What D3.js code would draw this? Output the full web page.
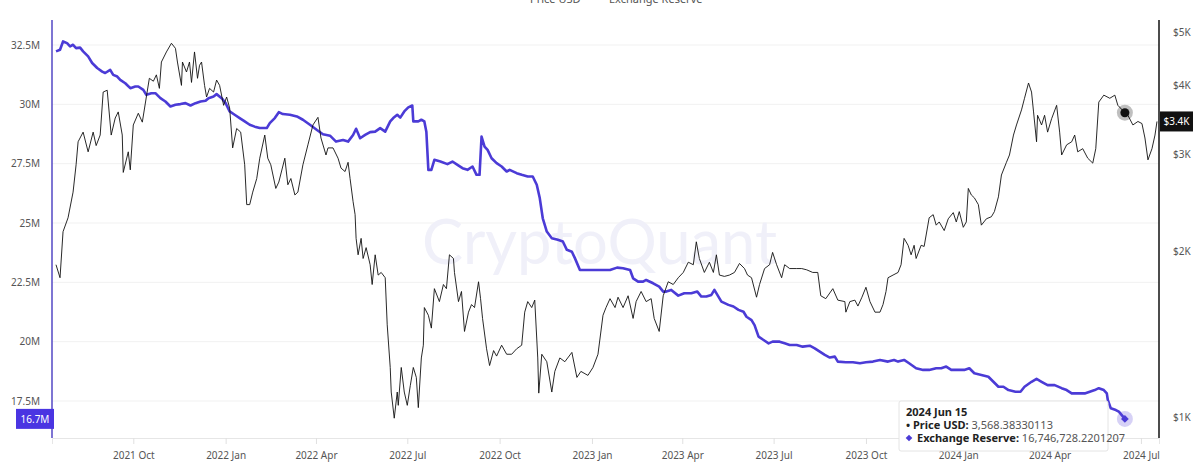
<!DOCTYPE html>
<html>
<head>
<meta charset="utf-8">
<script src="https://cdn.jsdelivr.net/npm/d3@7"></script>
<style>
  html, body { margin: 0; padding: 0; background: #fff; }
  svg { display: block; font-family: "Noto Sans", "DejaVu Sans", sans-serif; }
</style>
</head>
<body>
<div id="chart"></div>
<script>
// price of the asset in USD (right axis, log scale)
const priceSeries = [
  ["2021-07-16",1890],["2021-07-20",1790],["2021-07-23",2170],["2021-07-28",2300],["2021-08-02",2560],
  ["2021-08-05",2870],["2021-08-07",3160],["2021-08-12",3290],["2021-08-17",3030],["2021-08-22",3290],
  ["2021-08-25",3110],["2021-08-29",3250],["2021-09-01",3890],["2021-09-05",3920],["2021-09-09",3250],
  ["2021-09-13",3490],["2021-09-16",3580],["2021-09-20",3250],["2021-09-21",2780],["2021-09-26",3030],
  ["2021-09-28",2810],["2021-10-01",3390],["2021-10-06",3560],["2021-10-10",3430],["2021-10-14",3810],
  ["2021-10-17",4120],["2021-10-21",4070],["2021-10-24",4180],["2021-10-27",3950],["2021-10-29",4410],
  ["2021-11-03",4600],["2021-11-08",4770],["2021-11-12",4670],["2021-11-14",4410],["2021-11-18",4000],
  ["2021-11-19",4410],["2021-11-23",4230],["2021-11-26",4410],["2021-11-28",4050],["2021-12-01",4600],
  ["2021-12-04",4120],["2021-12-06",4350],["2021-12-08",4410],["2021-12-11",4000],["2021-12-13",3810],
  ["2021-12-16",3950],["2021-12-20",3890],["2021-12-23",4090],["2021-12-26",4000],["2021-12-30",3680],
  ["2022-01-02",3810],["2022-01-05",3640],["2022-01-08",3080],["2022-01-12",3340],["2022-01-16",3290],
  ["2022-01-20",2870],["2022-01-22",2430],["2022-01-25",2430],["2022-01-28",2560],["2022-02-01",2710],
  ["2022-02-04",2950],["2022-02-09",3250],["2022-02-12",2950],["2022-02-15",2870],["2022-02-20",2600],
  ["2022-02-23",2670],["2022-03-01",2950],["2022-03-04",2640],["2022-03-07",2710],["2022-03-11",2530],
  ["2022-03-14",2560],["2022-03-19",2870],["2022-03-24",3120],["2022-03-29",3390],["2022-04-03",3500],
  ["2022-04-06",3210],["2022-04-11",2990],["2022-04-13",3080],["2022-04-18",3080],["2022-04-23",2950],
  ["2022-04-26",2830],["2022-04-30",2790],["2022-05-03",2900],["2022-05-05",2710],["2022-05-08",2460],
  ["2022-05-10",2330],["2022-05-11",2110],["2022-05-13",1970],["2022-05-16",2110],["2022-05-18",1940],
  ["2022-05-21",2030],["2022-05-25",1890],["2022-05-27",1740],["2022-05-30",1970],["2022-06-02",1810],
  ["2022-06-05",1830],["2022-06-09",1790],["2022-06-11",1470],["2022-06-14",1230],["2022-06-15",1110],
  ["2022-06-18",995],["2022-06-21",1110],["2022-06-22",1050],["2022-06-25",1230],["2022-06-28",1110],
  ["2022-07-01",1050],["2022-07-04",1140],["2022-07-07",1230],["2022-07-10",1180],["2022-07-12",1040],
  ["2022-07-15",1280],["2022-07-17",1350],["2022-07-18",1580],["2022-07-22",1530],["2022-07-25",1450],
  ["2022-07-28",1710],["2022-08-02",1620],["2022-08-06",1740],["2022-08-09",1710],["2022-08-12",1970],
  ["2022-08-16",1940],["2022-08-17",1830],["2022-08-21",1620],["2022-08-24",1690],["2022-08-27",1430],
  ["2022-08-31",1550],["2022-09-03",1600],["2022-09-06",1580],["2022-09-10",1760],["2022-09-12",1640],
  ["2022-09-14",1510],["2022-09-18",1330],["2022-09-21",1240],["2022-09-25",1320],["2022-09-28",1290],
  ["2022-10-03",1350],["2022-10-08",1300],["2022-10-13",1300],["2022-10-18",1330],["2022-10-23",1350],
  ["2022-10-26",1550],["2022-10-29",1620],["2022-11-02",1580],["2022-11-05",1630],["2022-11-08",1280],
  ["2022-11-09",1105],["2022-11-12",1300],["2022-11-17",1260],["2022-11-22",1110],["2022-11-25",1210],
  ["2022-11-30",1280],["2022-12-05",1260],["2022-12-12",1310],["2022-12-17",1180],["2022-12-21",1210],
  ["2022-12-28",1190],["2023-01-02",1230],["2023-01-07",1300],["2023-01-12",1530],["2023-01-15",1580],
  ["2023-01-19",1640],["2023-01-24",1580],["2023-01-27",1650],["2023-02-01",1580],["2023-02-06",1660],
  ["2023-02-11",1510],["2023-02-14",1620],["2023-02-19",1690],["2023-02-24",1620],["2023-03-01",1640],
  ["2023-03-04",1510],["2023-03-09",1430],["2023-03-13",1660],["2023-03-18",1760],["2023-03-23",1740],
  ["2023-03-28",1790],["2023-04-02",1830],["2023-04-07",1910],["2023-04-12",1890],["2023-04-15",2080],
  ["2023-04-18",1940],["2023-04-23",1830],["2023-04-28",1910],["2023-05-02",1830],["2023-05-05",1970],
  ["2023-05-08",1810],["2023-05-13",1800],["2023-05-18",1810],["2023-05-23",1830],["2023-05-28",1900],
  ["2023-06-02",1860],["2023-06-05",1810],["2023-06-09",1790],["2023-06-14",1650],["2023-06-17",1740],
  ["2023-06-22",1860],["2023-06-27",1890],["2023-06-30",1990],["2023-07-04",1890],["2023-07-09",1790],
  ["2023-07-12",1890],["2023-07-17",1860],["2023-07-24",1860],["2023-07-29",1860],["2023-08-03",1850],
  ["2023-08-09",1830],["2023-08-14",1830],["2023-08-17",1660],["2023-08-22",1640],["2023-08-29",1710],
  ["2023-09-03",1630],["2023-09-10",1620],["2023-09-11",1550],["2023-09-15",1620],["2023-09-20",1630],
  ["2023-09-23",1590],["2023-09-27",1650],["2023-10-01",1720],["2023-10-05",1620],["2023-10-10",1550],
  ["2023-10-15",1550],["2023-10-18",1600],["2023-10-21",1690],["2023-10-23",1790],["2023-10-28",1810],
  ["2023-11-02",1830],["2023-11-05",1890],["2023-11-08",2110],["2023-11-12",2050],["2023-11-15",1970],
  ["2023-11-18",2050],["2023-11-20",1940],["2023-11-25",2050],["2023-11-28",2040],["2023-12-03",2300],
  ["2023-12-07",2330],["2023-12-10",2230],["2023-12-13",2260],["2023-12-18",2180],["2023-12-22",2290],
  ["2023-12-27",2350],["2023-12-30",2260],["2024-01-02",2360],["2024-01-06",2210],["2024-01-09",2260],
  ["2024-01-11",2600],["2024-01-14",2530],["2024-01-17",2500],["2024-01-21",2430],["2024-01-24",2230],
  ["2024-01-29",2290],["2024-02-03",2310],["2024-02-06",2360],["2024-02-10",2510],["2024-02-13",2750],
  ["2024-02-18",2900],["2024-02-21",2990],["2024-02-25",3250],["2024-02-28",3390],["2024-03-04",3610],
  ["2024-03-07",3790],["2024-03-11",4040],["2024-03-14",3890],["2024-03-16",3580],["2024-03-19",3160],
  ["2024-03-20",3530],["2024-03-24",3390],["2024-03-27",3530],["2024-03-30",3290],["2024-04-03",3480],
  ["2024-04-08",3680],["2024-04-11",3290],["2024-04-13",2990],["2024-04-18",3120],["2024-04-23",3160],
  ["2024-04-26",3250],["2024-04-29",3030],["2024-05-04",3070],["2024-05-09",2950],["2024-05-14",2890],
  ["2024-05-17",3070],["2024-05-20",3730],["2024-05-25",3840],["2024-05-31",3790],["2024-06-05",3840],
  ["2024-06-08",3680],["2024-06-15",3568.38],["2024-06-18",3530],["2024-06-23",3390],["2024-06-28",3440],
  ["2024-07-02",3410],["2024-07-05",3210],["2024-07-08",2930],["2024-07-12",3070],["2024-07-15",3250],
  ["2024-07-17",3440]
];

// exchange reserve in millions (left axis)
const reserveSeries = [
  ["2021-07-16",32.23],["2021-07-20",32.30],["2021-07-23",32.65],["2021-07-27",32.58],["2021-07-30",32.44],
  ["2021-08-02",32.51],["2021-08-05",32.37],["2021-08-09",32.39],["2021-08-12",32.23],["2021-08-17",32.02],
  ["2021-08-21",31.74],["2021-08-26",31.53],["2021-08-31",31.38],["2021-09-03",31.32],["2021-09-08",31.45],
  ["2021-09-11",31.24],["2021-09-15",31.17],["2021-09-18",31.03],["2021-09-23",30.89],["2021-09-28",30.68],
  ["2021-10-03",30.75],["2021-10-06",30.75],["2021-10-11",30.61],["2021-10-14",30.40],["2021-10-19",30.47],
  ["2021-10-23",30.47],["2021-10-28",30.26],["2021-11-02",30.12],["2021-11-07",29.91],["2021-11-12",29.98],
  ["2021-11-17",30.01],["2021-11-22",30.05],["2021-11-27",29.95],["2021-12-02",30.05],["2021-12-07",30.12],
  ["2021-12-12",30.15],["2021-12-15",30.26],["2021-12-20",30.33],["2021-12-23",30.43],["2021-12-28",30.26],
  ["2022-01-01",30.05],["2022-01-05",29.70],["2022-01-10",29.56],["2022-01-15",29.42],["2022-01-20",29.28],
  ["2022-01-25",29.14],["2022-01-30",29.06],["2022-02-04",29.00],["2022-02-11",29.00],["2022-02-14",29.21],
  ["2022-02-19",29.42],["2022-02-23",29.67],["2022-02-27",29.59],["2022-03-06",29.56],["2022-03-13",29.49],
  ["2022-03-19",29.35],["2022-03-26",29.14],["2022-04-02",28.92],["2022-04-08",28.74],["2022-04-15",28.68],
  ["2022-04-21",28.43],["2022-04-28",28.50],["2022-05-03",28.43],["2022-05-08",28.71],["2022-05-11",28.97],
  ["2022-05-15",28.57],["2022-05-20",28.71],["2022-05-25",28.83],["2022-05-30",28.85],["2022-06-04",29.00],
  ["2022-06-09",28.85],["2022-06-14",29.28],["2022-06-17",29.42],["2022-06-21",29.56],["2022-06-24",29.44],
  ["2022-06-28",29.70],["2022-07-02",29.87],["2022-07-06",29.95],["2022-07-07",29.28],["2022-07-12",29.28],
  ["2022-07-15",29.35],["2022-07-18",29.28],["2022-07-20",28.85],["2022-07-22",27.24],["2022-07-25",27.24],
  ["2022-07-28",27.66],["2022-08-03",27.59],["2022-08-10",27.48],["2022-08-15",27.59],["2022-08-20",27.45],
  ["2022-08-25",27.31],["2022-08-30",27.24],["2022-09-04",27.38],["2022-09-08",27.03],["2022-09-11",27.03],
  ["2022-09-13",28.64],["2022-09-16",28.22],["2022-09-19",28.08],["2022-09-23",27.73],["2022-09-28",27.52],
  ["2022-10-03",27.38],["2022-10-08",27.17],["2022-10-11",27.24],["2022-10-18",27.10],["2022-10-23",27.03],
  ["2022-10-29",26.96],["2022-11-03",26.96],["2022-11-07",26.61],["2022-11-10",26.05],["2022-11-13",25.20],
  ["2022-11-17",24.64],["2022-11-22",24.36],["2022-11-28",24.29],["2022-12-03",24.22],["2022-12-07",23.87],
  ["2022-12-12",23.79],["2022-12-15",23.52],["2022-12-20",23.02],["2022-12-28",23.02],["2023-01-05",23.02],
  ["2023-01-14",23.02],["2023-01-19",23.02],["2023-01-26",23.12],["2023-02-01",23.09],["2023-02-08",23.02],
  ["2023-02-11",22.67],["2023-02-16",22.53],["2023-02-21",22.53],["2023-02-24",22.60],["2023-03-03",22.46],
  ["2023-03-09",22.32],["2023-03-13",22.11],["2023-03-16",22.11],["2023-03-21",22.18],["2023-03-28",21.94],
  ["2023-04-03",22.04],["2023-04-10",22.04],["2023-04-16",22.11],["2023-04-20",21.90],["2023-04-25",21.90],
  ["2023-04-30",21.97],["2023-05-03",22.18],["2023-05-07",21.90],["2023-05-10",21.69],["2023-05-17",21.55],
  ["2023-05-22",21.48],["2023-05-27",21.34],["2023-06-01",21.26],["2023-06-04",21.05],["2023-06-09",20.91],
  ["2023-06-12",20.70],["2023-06-16",20.21],["2023-06-21",20.07],["2023-06-26",19.93],["2023-06-30",20.00],
  ["2023-07-07",20.00],["2023-07-12",19.93],["2023-07-17",19.86],["2023-07-24",19.86],["2023-07-30",19.79],
  ["2023-08-06",19.83],["2023-08-11",19.72],["2023-08-16",19.58],["2023-08-21",19.44],["2023-08-26",19.33],
  ["2023-08-31",19.37],["2023-09-03",19.16],["2023-09-11",19.13],["2023-09-18",19.13],["2023-09-25",19.09],
  ["2023-10-01",19.13],["2023-10-08",19.16],["2023-10-15",19.23],["2023-10-23",19.16],["2023-10-29",19.23],
  ["2023-11-02",19.16],["2023-11-08",19.23],["2023-11-13",19.09],["2023-11-20",18.88],["2023-11-27",18.81],
  ["2023-12-03",18.81],["2023-12-10",18.88],["2023-12-15",18.88],["2023-12-20",18.95],["2023-12-25",18.81],
  ["2024-01-01",18.81],["2024-01-07",18.81],["2024-01-12",18.88],["2024-01-17",18.67],["2024-01-24",18.60],
  ["2024-01-31",18.52],["2024-02-05",18.31],["2024-02-10",18.10],["2024-02-15",18.10],["2024-02-20",17.96],
  ["2024-02-27",17.89],["2024-03-03",17.89],["2024-03-07",18.10],["2024-03-14",18.31],["2024-03-19",18.43],
  ["2024-03-24",18.31],["2024-03-30",18.17],["2024-04-06",18.17],["2024-04-13",18.04],["2024-04-18",17.96],
  ["2024-04-23",17.82],["2024-04-29",17.82],["2024-05-06",17.82],["2024-05-11",17.89],["2024-05-16",17.96],
  ["2024-05-20",18.04],["2024-05-25",17.96],["2024-05-28",17.82],["2024-05-29",17.54],["2024-06-01",17.19],
  ["2024-06-06",17.12],["2024-06-09",17.05],["2024-06-15",16.7467282201207]
];

const reserveTicks = [17.5, 20, 22.5, 25, 27.5, 30, 32.5];
const reserveTickLabels = ["17.5M", "20M", "22.5M", "25M", "27.5M", "30M", "32.5M"];
const priceTicks = [1000, 2000, 3000, 4000, 5000];
const priceTickLabels = ["$1K", "$2K", "$3K", "$4K", "$5K"];
const dateTicks = ["2021-10-01","2022-01-01","2022-04-01","2022-07-01","2022-10-01","2023-01-01",
                   "2023-04-01","2023-07-01","2023-10-01","2024-01-01","2024-04-01","2024-07-01"];
const dateTickLabels = ["2021 Oct","2022 Jan","2022 Apr","2022 Jul","2022 Oct","2023 Jan",
                        "2023 Apr","2023 Jul","2023 Oct","2024 Jan","2024 Apr","2024 Jul"];
const legendNames = ["Price USD", "Exchange Reserve"];

const hoverDate = "2024-06-15";
const hoverPrice = "3,568.38330113";
const hoverReserve = "16,746,728.2201207";
const lastPriceLabel = "$3.4K";
const lastReserveLabel = "16.7M";

const width = 1200, height = 471;
const plotLeft = 52, plotRight = 1159, plotTop = 20, plotBottom = 438;
const purple = "#4b3bd6";

const parse = d3.utcParse("%Y-%m-%d");

const svg = d3.select("#chart").append("svg")
    .attr("width", width)
    .attr("height", height);

const x = d3.scaleUtc()
    .domain([parse("2021-07-12"), parse("2024-07-19")])
    .range([plotLeft, plotRight]);
const yPrice = d3.scaleLog()
    .domain([1000, 5000])
    .range([417, 32]);
const yRes = d3.scaleLinear()
    .domain([17.5, 32.5])
    .range([401, 45]);

// legend, pushed up against the top edge like the screenshot
svg.append("g").selectAll("text")
    .data(legendNames)
    .join("text")
    .attr("x", (d, i) => i === 0 ? 530 : 609)
    .attr("y", 3)
    .attr("font-size", 11)
    .attr("fill", "#555")
    .text(d => d);

// grid
svg.append("g").selectAll("line")
    .data(reserveTicks)
    .join("line")
    .attr("x1", plotLeft).attr("x2", plotRight)
    .attr("y1", d => yRes(d)).attr("y2", d => yRes(d))
    .attr("stroke", "#f1f1f1");

// watermark
svg.append("text")
    .attr("x", 422).attr("y", 264)
    .attr("font-size", 62)
    .attr("font-family", "Lato, 'Noto Sans', sans-serif")
    .attr("textLength", 355)
    .attr("lengthAdjust", "spacingAndGlyphs")
    .attr("fill", "#f0f0f9")
    .text("CryptoQuant");

// x axis
const xAxis = d3.axisBottom(x)
    .tickValues(dateTicks.map(parse))
    .tickFormat((d, i) => dateTickLabels[i])
    .tickSize(6)
    .tickPadding(8);
const gx = svg.append("g")
    .attr("transform", `translate(0,${plotBottom})`)
    .call(xAxis);
gx.select(".domain").attr("stroke", "#e6e6e6");
gx.selectAll(".tick line").attr("stroke", "#e0e0e0");
gx.selectAll(".tick text").attr("fill", "#555").attr("font-size", 10)
    .attr("font-family", "'Noto Sans', sans-serif");

// left axis
const yAxisL = d3.axisLeft(yRes)
    .tickValues(reserveTicks)
    .tickFormat((d, i) => reserveTickLabels[i])
    .tickSize(0)
    .tickPadding(12);
const gl = svg.append("g")
    .attr("transform", `translate(${plotLeft},0)`)
    .call(yAxisL);
gl.select(".domain").remove();
gl.selectAll(".tick text").attr("fill", "#555").attr("font-size", 10)
    .attr("font-family", "'Noto Sans', sans-serif");
svg.append("line")
    .attr("x1", plotLeft).attr("x2", plotLeft).attr("y1", plotTop).attr("y2", plotBottom)
    .attr("stroke", "#5347c4").attr("stroke-width", 1.5);

// right axis
const yAxisR = d3.axisRight(yPrice)
    .tickValues(priceTicks)
    .tickFormat((d, i) => priceTickLabels[i])
    .tickSize(0)
    .tickPadding(14);
const gr = svg.append("g")
    .attr("transform", `translate(${plotRight},0)`)
    .call(yAxisR);
gr.select(".domain").remove();
gr.selectAll(".tick text").attr("fill", "#555").attr("font-size", 10)
    .attr("font-family", "'Noto Sans', sans-serif");
svg.append("line")
    .attr("x1", plotRight).attr("x2", plotRight).attr("y1", plotTop).attr("y2", plotBottom)
    .attr("stroke", "#111").attr("stroke-width", 1.5);

// lines
const priceLine = d3.line()
    .x(d => x(parse(d[0])))
    .y(d => yPrice(d[1]));
const reserveLine = d3.line()
    .x(d => x(parse(d[0])))
    .y(d => yRes(d[1]));

svg.append("path")
    .datum(reserveSeries)
    .attr("d", reserveLine)
    .attr("fill", "none")
    .attr("stroke", purple)
    .attr("stroke-width", 2.6)
    .attr("stroke-linejoin", "round");

svg.append("path")
    .datum(priceSeries)
    .attr("d", priceLine)
    .attr("fill", "none")
    .attr("stroke", "#111")
    .attr("stroke-width", 0.9)
    .attr("stroke-linejoin", "round");

// hover markers
const hx = x(parse(hoverDate));
const hp = priceSeries.find(d => d[0] === hoverDate);
const hr = reserveSeries.find(d => d[0] === hoverDate);
svg.append("circle").attr("cx", hx).attr("cy", yPrice(hp[1])).attr("r", 8)
    .attr("fill", "rgba(0,0,0,0.25)");
svg.append("circle").attr("cx", hx).attr("cy", yPrice(hp[1])).attr("r", 4.5)
    .attr("fill", "#111");
svg.append("circle").attr("cx", hx).attr("cy", yRes(hr[1])).attr("r", 8)
    .attr("fill", "rgba(90,70,220,0.25)");
svg.append("path")
    .attr("d", d3.symbol(d3.symbolSquare, 30)())
    .attr("transform", `translate(${hx},${yRes(hr[1])}) rotate(45)`)
    .attr("fill", purple);

// last value badges
const lastRes = reserveSeries[reserveSeries.length - 1];
const lastPrice = priceSeries[priceSeries.length - 1];
svg.append("rect").attr("x", 16).attr("y", yRes(lastRes[1]) - 10)
    .attr("width", 38).attr("height", 20).attr("fill", "#4a35e2");
svg.append("text").attr("x", 35).attr("y", yRes(lastRes[1]) + 4)
    .attr("text-anchor", "middle").attr("font-size", 10).attr("fill", "#fff")
    .text(lastReserveLabel);
svg.append("rect").attr("x", plotRight + 1).attr("y", yPrice(lastPrice[1]) - 10)
    .attr("width", 33).attr("height", 20).attr("fill", "#111");
svg.append("text").attr("x", plotRight + 17.5).attr("y", yPrice(lastPrice[1]) + 4)
    .attr("text-anchor", "middle").attr("font-size", 10).attr("fill", "#fff")
    .text(lastPriceLabel);

// tooltip
const tip = svg.append("g").attr("transform", "translate(899,401)");
tip.append("rect")
    .attr("width", 209).attr("height", 50)
    .attr("fill", "#fff").attr("stroke", "#e4e4e4")
    .attr("rx", 2);
tip.append("text").attr("x", 7).attr("y", 15)
    .attr("font-size", 11).attr("font-weight", "bold").attr("fill", "#222")
    .text("2024 Jun 15");
const t1 = tip.append("text").attr("x", 7).attr("y", 28).attr("font-size", 11).attr("fill", "#222");
t1.append("tspan").text("\u2022 ").attr("font-weight", "bold");
t1.append("tspan").text(legendNames[0] + ":").attr("font-weight", "bold");
t1.append("tspan").text(" " + hoverPrice).attr("fill", "#555");
tip.append("path")
    .attr("d", d3.symbol(d3.symbolSquare, 22)())
    .attr("transform", "translate(10,37) rotate(45)")
    .attr("fill", purple);
const t2 = tip.append("text").attr("x", 18).attr("y", 41).attr("font-size", 11).attr("fill", "#222");
t2.append("tspan").text(legendNames[1] + ":").attr("font-weight", "bold");
t2.append("tspan").text(" " + hoverReserve).attr("fill", "#555");
</script>
</body>
</html>
